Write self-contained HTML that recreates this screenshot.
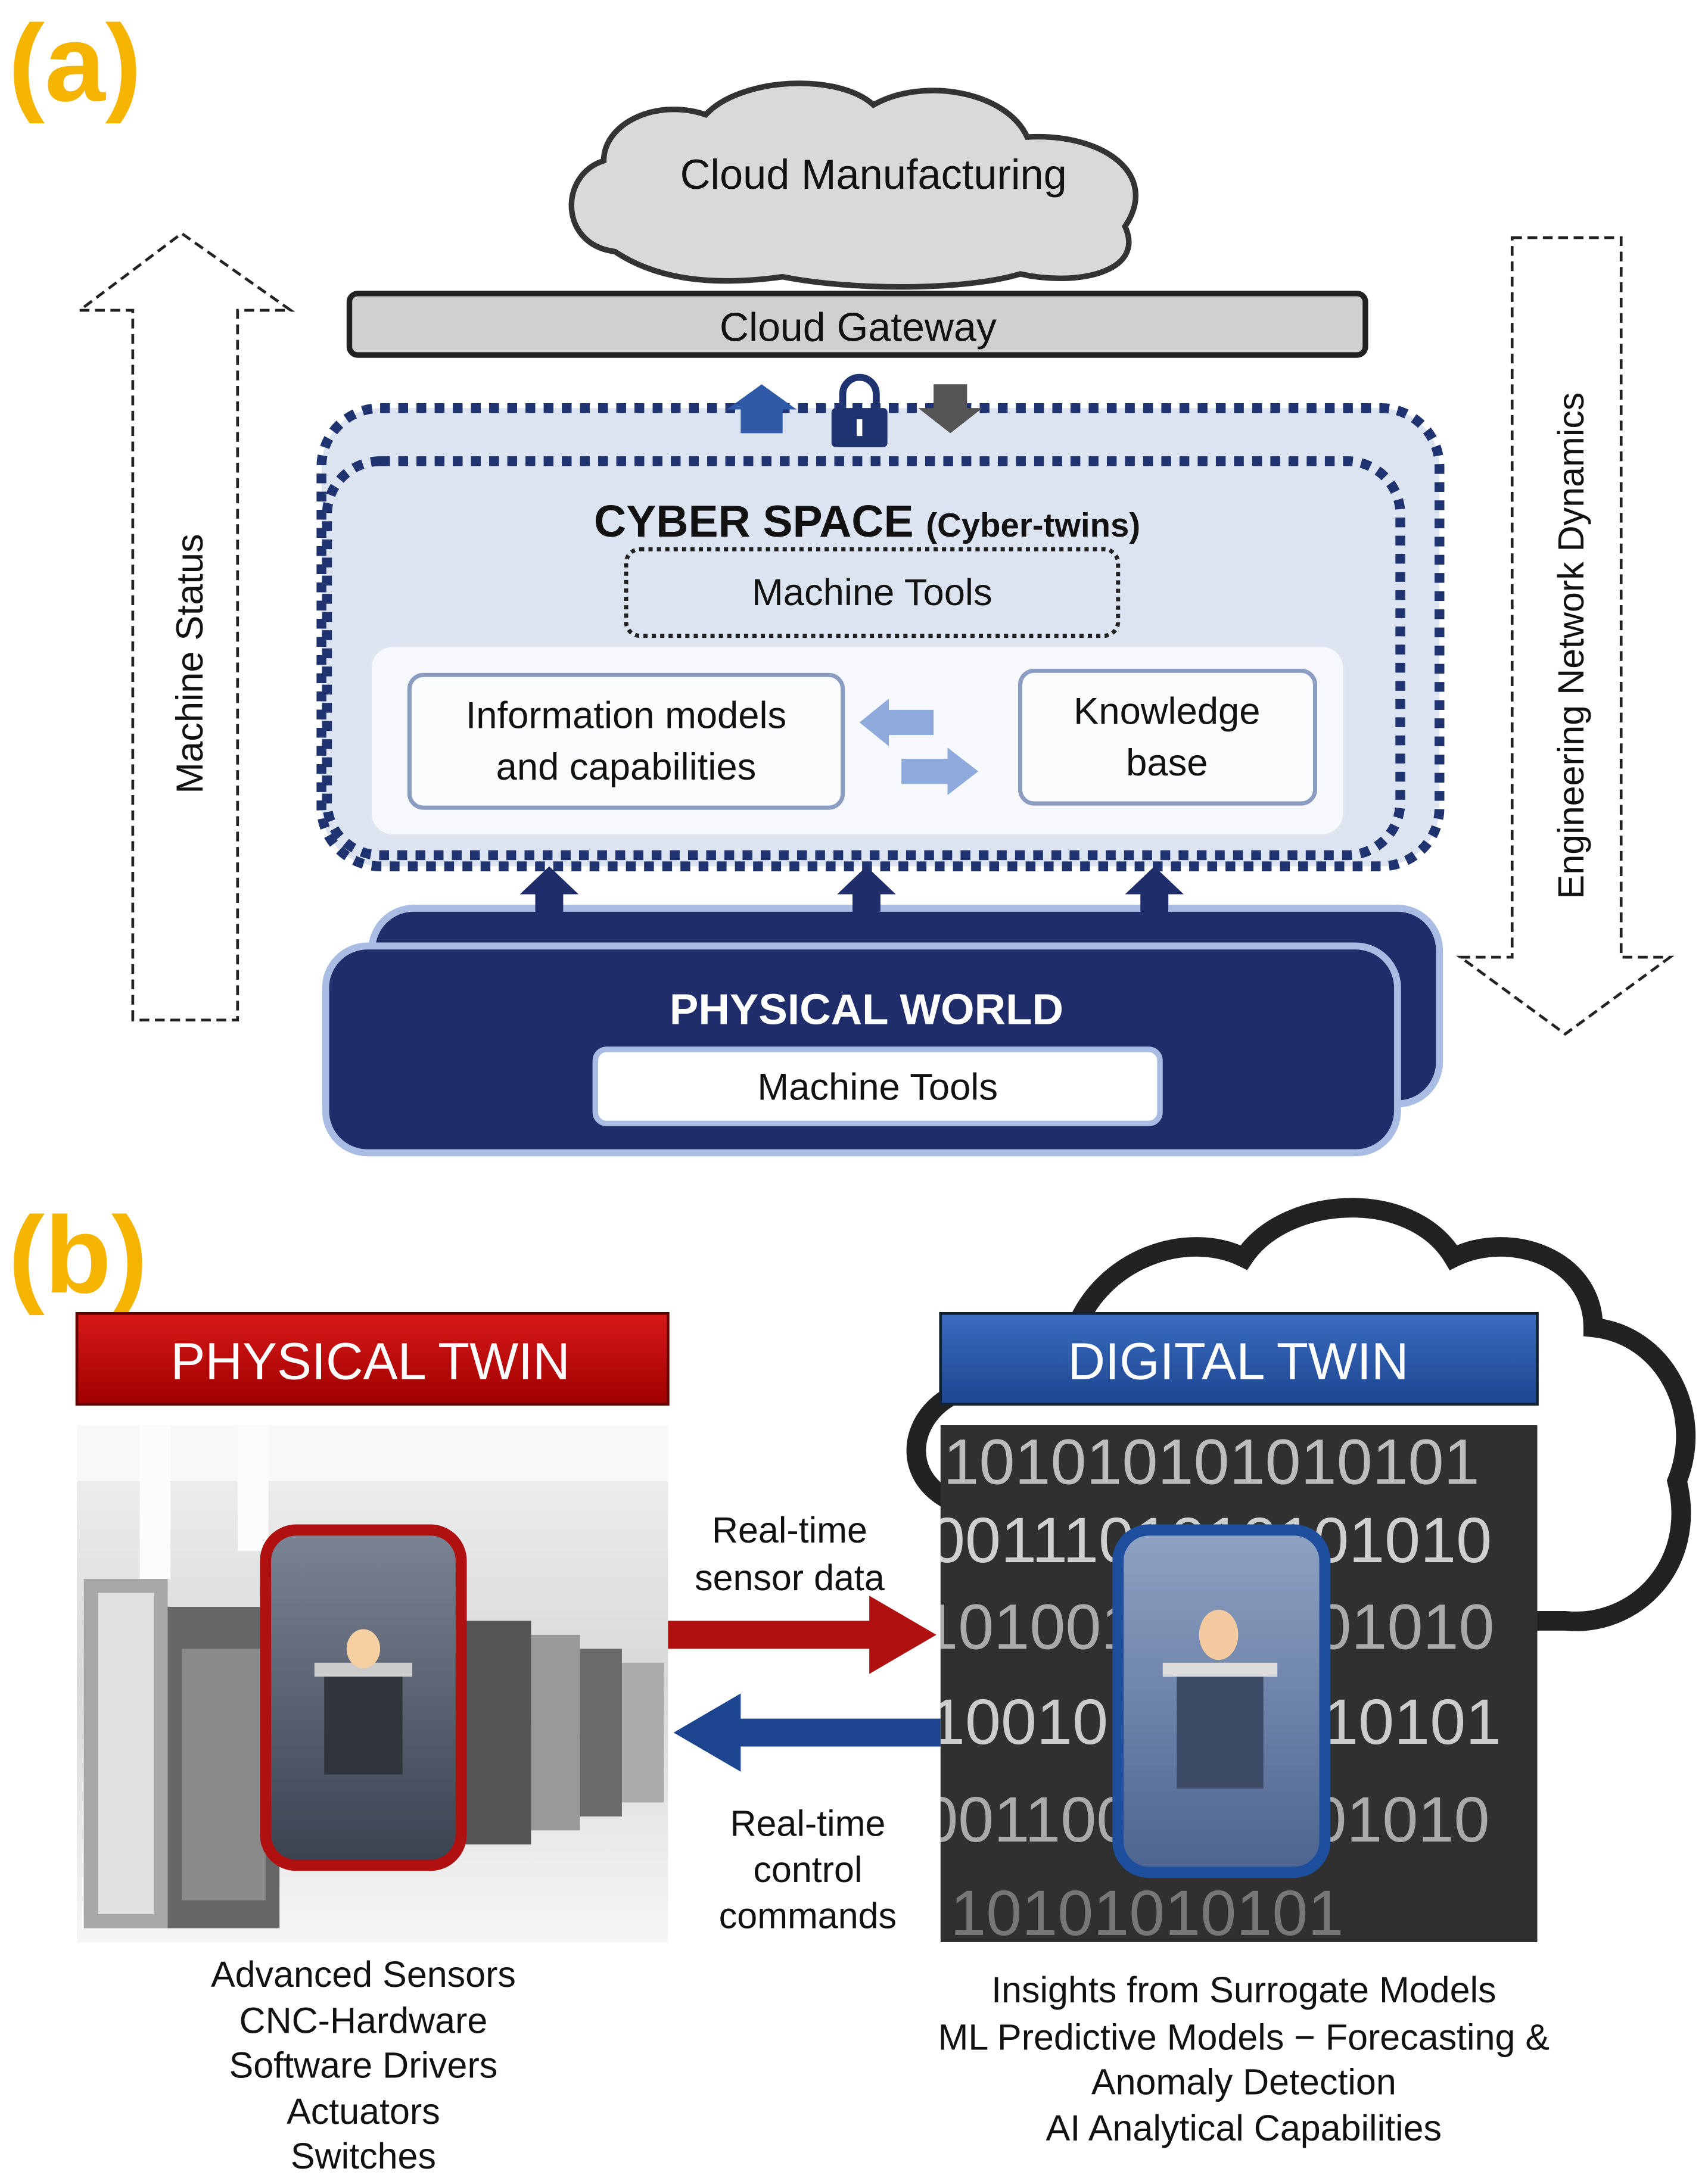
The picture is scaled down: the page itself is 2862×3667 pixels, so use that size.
<!DOCTYPE html>
<html><head><meta charset="utf-8"><style>
html,body{margin:0;padding:0;background:#fff}
svg{display:block}
text{font-family:"Liberation Sans",sans-serif}
</style></head><body>
<svg width="2862" height="3667" viewBox="0 0 1220 1563" xmlns="http://www.w3.org/2000/svg">
<defs>
<linearGradient id="red" x1="0" y1="0" x2="0" y2="1"><stop offset="0" stop-color="#d81818"/><stop offset="1" stop-color="#a00000"/></linearGradient>
<linearGradient id="blue" x1="0" y1="0" x2="0" y2="1"><stop offset="0" stop-color="#3a6cc0"/><stop offset="1" stop-color="#1d4590"/></linearGradient>
<linearGradient id="fac" x1="0" y1="0" x2="0" y2="1"><stop offset="0" stop-color="#f2f2f2"/><stop offset="0.5" stop-color="#d8d8d8"/><stop offset="1" stop-color="#f6f6f6"/></linearGradient>
<linearGradient id="part" x1="0" y1="0" x2="0" y2="1"><stop offset="0" stop-color="#7a8494"/><stop offset="1" stop-color="#3a4250"/></linearGradient>
<linearGradient id="dpart" x1="0" y1="0" x2="0" y2="1"><stop offset="0" stop-color="#8ea2c2"/><stop offset="1" stop-color="#4d6490"/></linearGradient>
<clipPath id="cr"><rect x="673" y="1020" width="427" height="370"/></clipPath>
</defs>
<!-- (a) -->
<text x="6" y="72" font-size="78" font-weight="bold" fill="#f5b400">(a)</text>
<path d="M440,180 C400,175 400,125 432,115 C432,88 470,70 505,82 C530,55 600,52 625,75 C660,55 720,65 735,98 C790,95 830,125 805,162 C820,195 770,205 730,196 C690,208 610,208 560,198 C510,205 470,200 440,180 Z" fill="#d9d9d9" stroke="#333" stroke-width="4"/>
<text x="625" y="135" font-size="30" text-anchor="middle" fill="#111">Cloud Manufacturing</text>
<rect x="250" y="210" width="727" height="44" rx="6" fill="#d0d0d0" stroke="#222" stroke-width="4"/>
<text x="614" y="244" font-size="29" text-anchor="middle" fill="#111">Cloud Gateway</text>
<path d="M95,730 L95,222 L57,222 L130,167 L208,222 L170,222 L170,730 Z" fill="none" stroke="#222" stroke-width="2" stroke-dasharray="7 4"/>
<text transform="translate(145,475) rotate(-90)" font-size="27" text-anchor="middle" fill="#111">Machine Status</text>
<path d="M1082,170 L1160,170 L1160,685 L1195,685 L1120,740 L1045,685 L1082,685 Z" fill="none" stroke="#222" stroke-width="2" stroke-dasharray="7 4"/>
<text transform="translate(1133,462) rotate(-90)" font-size="26" text-anchor="middle" fill="#111">Engineering Network Dynamics</text>
<rect x="230" y="292" width="800" height="328" rx="42" fill="#dde4f1" stroke="#1f3370" stroke-width="7" stroke-dasharray="7 6"/>
<rect x="234" y="330" width="768" height="282" rx="38" fill="none" stroke="#1f3370" stroke-width="7" stroke-dasharray="7 6"/>
<path d="M530,310 L530,293 L520,293 L545,275 L570,293 L560,293 L560,310 Z" fill="#2e5aa8"/>
<path d="M668,275 L692,275 L692,292 L703,292 L680,310 L657,292 L668,292 Z" fill="#555"/>
<path d="M603,294 L603,282 A12,12 0 0 1 627,282 L627,294" fill="none" stroke="#1f3370" stroke-width="5"/>
<rect x="595" y="292" width="40" height="28" rx="3" fill="#1f3370"/>
<rect x="613" y="300" width="4" height="12" fill="#fff"/>
<text x="425" y="384" font-size="32" font-weight="bold" fill="#111">CYBER SPACE <tspan font-size="24">(Cyber-twins)</tspan></text>
<rect x="448" y="393" width="352" height="62" rx="10" fill="none" stroke="#222" stroke-width="3" stroke-dasharray="3 3"/>
<text x="624" y="433" font-size="27" text-anchor="middle" fill="#111">Machine Tools</text>
<rect x="265" y="462" width="697" height="136" rx="16" fill="#f6f8fc" stroke="#e0e6f0" stroke-width="2"/>
<rect x="293" y="483" width="310" height="95" rx="10" fill="#fbfcfe" stroke="#8a9cc0" stroke-width="3"/>
<text x="448" y="521" font-size="27" text-anchor="middle" fill="#111">Information models</text>
<text x="448" y="558" font-size="27" text-anchor="middle" fill="#111">and capabilities</text>
<rect x="730" y="480" width="211" height="95" rx="10" fill="#fbfcfe" stroke="#8a9cc0" stroke-width="3"/>
<text x="835" y="518" font-size="27" text-anchor="middle" fill="#111">Knowledge</text>
<text x="835" y="555" font-size="27" text-anchor="middle" fill="#111">base</text>
<path d="M668,508 L636,508 L636,500 L615,517 L636,534 L636,526 L668,526 Z" fill="#8faadc"/>
<path d="M645,543 L678,543 L678,535 L700,552 L678,569 L678,561 L645,561 Z" fill="#8faadc"/>
<rect x="266" y="650" width="764" height="140" rx="30" fill="#1f2d6b" stroke="#a8bce4" stroke-width="5"/>
<path d="M383,665 L383,640 L372,640 L393,620 L414,640 L403,640 L403,665 Z" fill="#1f2d6b"/>
<path d="M610,665 L610,640 L599,640 L620,620 L641,640 L630,640 L630,665 Z" fill="#1f2d6b"/>
<path d="M816,665 L816,640 L805,640 L826,620 L847,640 L836,640 L836,665 Z" fill="#1f2d6b"/>
<rect x="233" y="677" width="767" height="148" rx="30" fill="#1f2d6b" stroke="#a8bce4" stroke-width="5"/>
<text x="620" y="733" font-size="31" font-weight="bold" text-anchor="middle" fill="#fff">PHYSICAL WORLD</text>
<rect x="426" y="751" width="404" height="53" rx="8" fill="#fff" stroke="#a8bce4" stroke-width="4"/>
<text x="628" y="787" font-size="27" text-anchor="middle" fill="#111">Machine Tools</text>
<!-- (b) -->
<text x="6" y="925" font-size="78" font-weight="bold" fill="#f5b400">(b)</text>
<path d="M700,1080 C640,1070 645,1010 690,995 C690,960 730,940 770,950 C790,900 850,880 890,900 C920,855 1010,850 1040,900 C1080,880 1140,900 1140,950 C1190,955 1220,1010 1200,1060 C1215,1120 1170,1165 1120,1160 L760,1160 C720,1160 690,1130 700,1080 Z" fill="none" stroke="#222" stroke-width="14"/>
<rect x="55" y="940" width="423" height="65" fill="url(#red)" stroke="#600" stroke-width="2"/>
<text x="265" y="987" font-size="37" text-anchor="middle" fill="#fff">PHYSICAL TWIN</text>
<rect x="673" y="940" width="427" height="65" fill="url(#blue)" stroke="#123" stroke-width="2"/>
<text x="886" y="987" font-size="37" text-anchor="middle" fill="#fff">DIGITAL TWIN</text>
<!-- left photo -->
<rect x="55" y="1020" width="423" height="370" fill="url(#fac)"/>
<rect x="55" y="1020" width="423" height="40" fill="#f8f8f8"/>
<rect x="100" y="1020" width="22" height="110" fill="#fcfcfc"/>
<rect x="170" y="1020" width="22" height="90" fill="#fcfcfc"/>
<rect x="60" y="1130" width="60" height="250" fill="#a8a8a8"/>
<rect x="70" y="1140" width="40" height="230" fill="#e0e0e0"/>
<rect x="120" y="1150" width="80" height="230" fill="#666"/>
<rect x="130" y="1180" width="60" height="180" fill="#8a8a8a"/>
<rect x="330" y="1160" width="50" height="160" fill="#555"/>
<rect x="380" y="1170" width="35" height="140" fill="#999"/>
<rect x="415" y="1180" width="30" height="120" fill="#6a6a6a"/>
<rect x="445" y="1190" width="30" height="100" fill="#aaa"/>
<rect x="190" y="1095" width="140" height="240" rx="22" fill="url(#part)" stroke="#b01010" stroke-width="8"/>
<rect x="225" y="1190" width="70" height="10" fill="#ccc"/>
<rect x="232" y="1200" width="56" height="70" fill="#30343c"/>
<ellipse cx="260" cy="1180" rx="12" ry="14" fill="#f6d0a0"/>
<!-- right image -->
<rect x="673" y="1020" width="427" height="370" fill="#303030"/>
<g clip-path="url(#cr)" fill="#bdbdbd" font-size="46" font-family="Liberation Serif,serif">
<text x="675" y="1062">101010101010101</text>
<text x="665" y="1118" fill="#d0d0d0">0011101010101010</text>
<text x="660" y="1180" fill="#aaa">1010010100101010</text>
<text x="665" y="1248" fill="#ccc">1001010101010101</text>
<text x="660" y="1318" fill="#aaa">0011001010101010</text>
<text x="680" y="1385" fill="#777">10101010101</text>
</g>
<rect x="800" y="1095" width="148" height="245" rx="22" fill="url(#dpart)" stroke="#1d4f9e" stroke-width="8"/>
<rect x="832" y="1190" width="82" height="10" fill="#ddd"/>
<ellipse cx="872" cy="1170" rx="14" ry="18" fill="#f3c9a0"/>
<rect x="842" y="1200" width="62" height="80" fill="#3c4a66"/>
<path d="M478,1160 L622,1160 L622,1142 L670,1170 L622,1198 L622,1180 L478,1180 Z" fill="#b01010"/>
<path d="M673,1230 L530,1230 L530,1212 L482,1240 L530,1268 L530,1250 L673,1250 Z" fill="#1d4590"/>
<g font-size="26" text-anchor="middle" fill="#111">
<text x="565" y="1104">Real-time</text>
<text x="565" y="1138">sensor data</text>
<text x="578" y="1314">Real-time</text>
<text x="578" y="1347">control</text>
<text x="578" y="1380">commands</text>
<text x="260" y="1422">Advanced Sensors</text>
<text x="260" y="1455">CNC-Hardware</text>
<text x="260" y="1487">Software Drivers</text>
<text x="260" y="1520">Actuators</text>
<text x="260" y="1552">Switches</text>
<text x="890" y="1433">Insights from Surrogate Models</text>
<text x="890" y="1467">ML Predictive Models  −  Forecasting &amp;</text>
<text x="890" y="1499">Anomaly Detection</text>
<text x="890" y="1532">AI Analytical Capabilities</text>
</g>
</svg>
</body></html>
